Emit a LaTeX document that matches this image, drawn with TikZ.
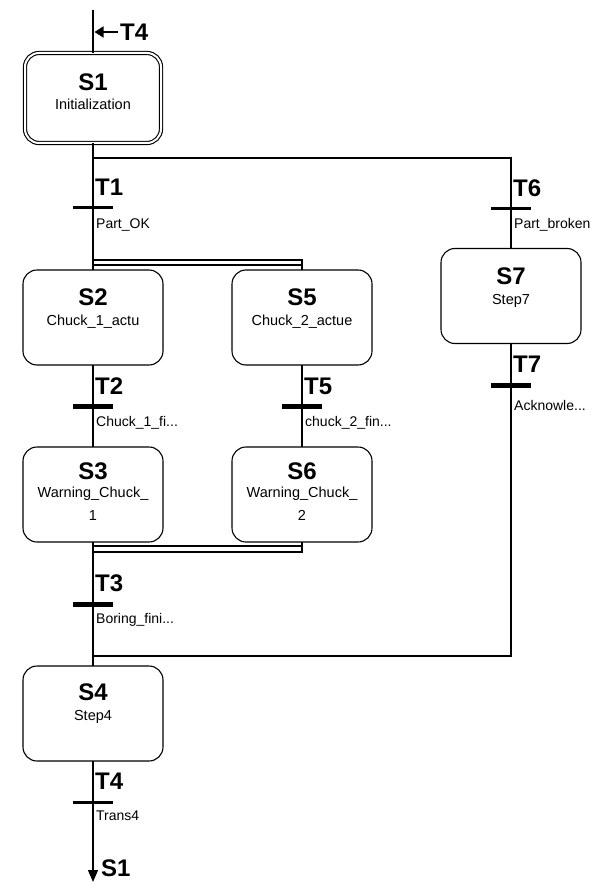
\documentclass[tikz,border=0pt]{standalone}
\usepackage{fontspec}
\setmainfont{Liberation Sans}
\usetikzlibrary{arrows.meta}
\tikzset{
  stepbox/.style={draw, line width=1.1pt, rounded corners=14pt, minimum width=140pt, minimum height=95pt, inner sep=0pt, outer sep=0pt},
  initbox/.style={stepbox, double, double distance=2pt, minimum width=136pt, minimum height=90pt},
  stepname/.style={font=\bfseries\fontsize{24}{24}\selectfont, inner sep=0pt},
  stepsub/.style={font=\fontsize{14.5}{23}\selectfont, inner sep=0pt, align=center},
  trname/.style={font=\bfseries\fontsize{24}{24}\selectfont, inner sep=0pt, anchor=west},
  trsub/.style={font=\fontsize{14}{16}\selectfont, inner sep=0pt, anchor=west},
  wire/.style={line width=1.1pt},
  thinbar/.style={fill=black, inner sep=0pt, minimum width=40pt, minimum height=3pt},
  thickbar/.style={fill=black, inner sep=0pt, minimum width=40pt, minimum height=5pt},
}
\begin{document}
\begin{tikzpicture}[x=1pt,y=-1pt]
\useasboundingbox (0,0) rectangle (593,882);
\fill[white] (0,0) rectangle (593,882);

% steps
\node[initbox] (S1) at (93,98) {};
\node[stepname] (S1n) at (93,82) {S1};
\node[stepsub] (S1s) at (93,104) {Initialization};

\node[stepbox] (S2) at (93,317.5) {};
\node[stepname] (S2n) at (93,297) {S2};
\node[stepsub] (S2s) at (93,322) {Chuck\_1\_actu};

\node[stepbox] (S5) at (302,317.5) {};
\node[stepname] (S5n) at (302,297) {S5};
\node[stepsub] (S5s) at (302,322) {Chuck\_2\_actue};

\node[stepbox] (S3) at (93,494.5) {};
\node[stepname] (S3n) at (93,471) {S3};
\node[stepsub] (S3s) at (93,503.5) {Warning\_Chuck\_\\1};

\node[stepbox] (S6) at (302,494.5) {};
\node[stepname] (S6n) at (302,471) {S6};
\node[stepsub] (S6s) at (302,503.5) {Warning\_Chuck\_\\2};

\node[stepbox] (S4) at (93,713.5) {};
\node[stepname] (S4n) at (93,692) {S4};
\node[stepsub] (S4s) at (93,717) {Step4};

\node[stepbox] (S7) at (511,296) {};
\node[stepname] (S7n) at (511,276) {S7};
\node[stepsub] (S7s) at (511,301) {Step7};

% coordinates
\coordinate (top) at (93,10);
\coordinate (br1) at (93,158);
\coordinate (br2) at (511,158);
\coordinate (d1a) at (93,260);
\coordinate (d1b) at (302,265);
\coordinate (d1l) at (93,265);
\coordinate (d2a) at (93,546);
\coordinate (d2b) at (302,552);
\coordinate (d2r) at (302,546);
\coordinate (d2l) at (93,552);
\coordinate (j1) at (93,656);
\coordinate (j2) at (511,656);
\coordinate (arrT) at (118,32);
\coordinate (arrH) at (94.5,32);
\coordinate (bot) at (93,882);

% wires
\draw[wire] (top) -- (S1.north);
\draw[wire] (S1.south) -- (d1a);
\draw[wire] (br1) -- (br2) -- (S7.north);
\draw[wire] (d1a) rectangle (d1b);
\draw[wire] (d1l) -- (S2.north);
\draw[wire] (d1b) -- (S5.north);
\draw[wire] (S2.south) -- (S3.north);
\draw[wire] (S5.south) -- (S6.north);
\draw[wire] (S3.south) -- (d2a);
\draw[wire] (S6.south) -- (d2r);
\draw[wire] (d2a) rectangle (d2b);
\draw[wire] (d2l) -- (S4.north);
\draw[wire] (S7.south) -- (j2) -- (j1);
\draw[wire,-{Triangle[length=12pt,width=10pt]}] (S4.south) -- (bot);
\draw[line width=1.6pt,-{Triangle[length=9pt,width=11pt]}] (arrT) -- (arrH);

% transitions
\node[thinbar] (T1) at (93,208) {};
\node[trname] (T1n) at (95,187) {T1};
\node[trsub] (T1s) at (96,225) {Part\_OK};

\node[thinbar] (T6) at (511,209) {};
\node[trname] (T6n) at (513,188) {T6};
\node[trsub] (T6s) at (514,225) {Part\_broken};

\node[thickbar] (T2) at (93,406) {};
\node[trname] (T2n) at (95,386) {T2};
\node[trsub] (T2s) at (96,423) {Chuck\_1\_fi...};

\node[thickbar] (T5) at (302,406) {};
\node[trname] (T5n) at (304,386) {T5};
\node[trsub] (T5s) at (305,423) {chuck\_2\_fin...};

\node[thickbar] (T7) at (511,385) {};
\node[trname] (T7n) at (513,364) {T7};
\node[trsub] (T7s) at (514,405) {Acknowle...};

\node[thickbar] (T3) at (93,604) {};
\node[trname] (T3n) at (95,583) {T3};
\node[trsub] (T3s) at (96,620) {Boring\_fini...};

\node[thinbar] (T4) at (93,802) {};
\node[trname] (T4n) at (95,781) {T4};
\node[trsub] (T4s) at (96,816) {Trans4};

% jump labels
\node[trname] (topT4) at (120,32) {T4};
\node[trname] (botS1) at (101,868) {S1};
\end{tikzpicture}
\end{document}
